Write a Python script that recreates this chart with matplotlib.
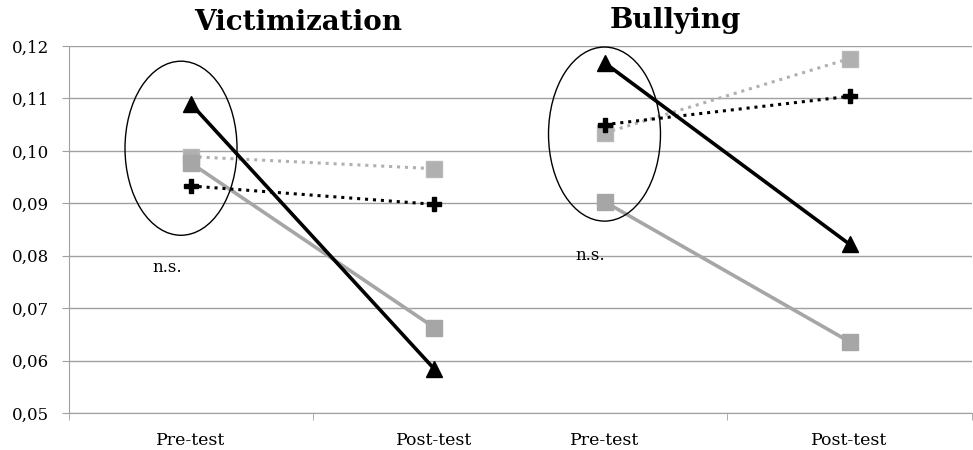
import matplotlib.pyplot as plt
from matplotlib.patches import Ellipse

# data
phases = ["Pre-test", "Post-test"]
panels = ["Victimization", "Bullying"]

vict_black_solid = [0.1090, 0.0584]
vict_gray_solid = [0.0977, 0.0663]
vict_gray_dotted = [0.0989, 0.0966]
vict_black_dotted = [0.0933, 0.0898]

bull_black_solid = [0.1168, 0.0822]
bull_gray_solid = [0.0903, 0.0636]
bull_gray_dotted = [0.1034, 0.1176]
bull_black_dotted = [0.1050, 0.1104]

plt.rcParams['font.family'] = ['DejaVu Serif']

W, H = 973, 450
fig = plt.figure(figsize=(W / 100, H / 100), dpi=100)

y_top, y_bot = 46, 413
ax1 = fig.add_axes([69 / W, (H - y_bot) / H, (482 - 69) / W, (y_bot - y_top) / H])
ax2 = fig.add_axes([482 / W, (H - y_bot) / H, (972 - 482) / W, (y_bot - y_top) / H])

grid_c = "#a0a0a0"
gray = "#a6a6a6"
lgray = "#b0b0b0"


def draw(ax, bs, gs, gd, bd):
    x = [0, 1]
    ax.plot(x, gd, color=lgray, lw=2.2, ls=(0, (1, 1.6)), marker="s", ms=11,
            mec="#b8b8b8", mfc="#b0b0b0", zorder=3)
    ax.plot(x, gs, color=gray, lw=2.6, marker="s", ms=11, mec=gray, mfc=gray, zorder=4)
    ax.plot(x, bd, color="black", lw=2.2, ls=(0, (1, 1.6)), marker="P", ms=9.5,
            mfc="black", mec="black", zorder=5)
    ax.plot(x, bs, color="black", lw=2.6, marker="^", ms=12, mfc="black", mec="black", zorder=6)
    ax.set_ylim(0.05, 0.12)
    ax.set_yticks([0.05, 0.06, 0.07, 0.08, 0.09, 0.10, 0.11, 0.12])
    ax.grid(axis="y", color=grid_c, lw=1.0)
    ax.set_axisbelow(True)
    for s in ["top", "right"]:
        ax.spines[s].set_visible(False)
    ax.spines["bottom"].set_color(grid_c)
    ax.spines["left"].set_color(grid_c)
    ax.set_xticks([0, 1])
    ax.set_xticklabels(phases, fontsize=12.5)
    ax.tick_params(axis="x", which="major", length=0, pad=14)
    ax.tick_params(axis="x", which="minor", length=5, color=grid_c)


draw(ax1, vict_black_solid, vict_gray_solid, vict_gray_dotted, vict_black_dotted)
draw(ax2, bull_black_solid, bull_gray_solid, bull_gray_dotted, bull_black_dotted)

ax1.set_xlim(-0.5, -0.5 + 413 / 243.5)
ax1.set_xticks([-0.5, 0.5], minor=True)
ax1.set_yticklabels(["0,05", "0,06", "0,07", "0,08", "0,09", "0,10", "0,11", "0,12"], fontsize=12)
ax1.tick_params(axis="y", length=5, color=grid_c, pad=9.5)

ax2.set_xlim(-0.5, 1.5)
ax2.set_xticks([0.5, 1.5], minor=True)
ax2.spines["left"].set_visible(False)
ax2.tick_params(axis="y", length=0, labelleft=False)

# n.s. circles
ax1.add_patch(Ellipse((-0.04, 0.1005), 0.46, 0.0332, fill=False, ec="black", lw=1.0, zorder=7))
ax2.add_patch(Ellipse((0.0, 0.1032), 0.457, 0.0332, fill=False, ec="black", lw=1.0, zorder=7))
ax1.text(-0.098, 0.0777, "n.s.", fontsize=12, ha="center", va="center")
ax2.text(-0.06, 0.0801, "n.s.", fontsize=12, ha="center", va="center")

fig.text(298 / W, 1 - 23 / H, panels[0], fontsize=20, fontweight="bold", ha="center", va="center")
fig.text(675 / W, 1 - 21 / H, panels[1], fontsize=20, fontweight="bold", ha="center", va="center")

fig.savefig("out.png", dpi=100)
